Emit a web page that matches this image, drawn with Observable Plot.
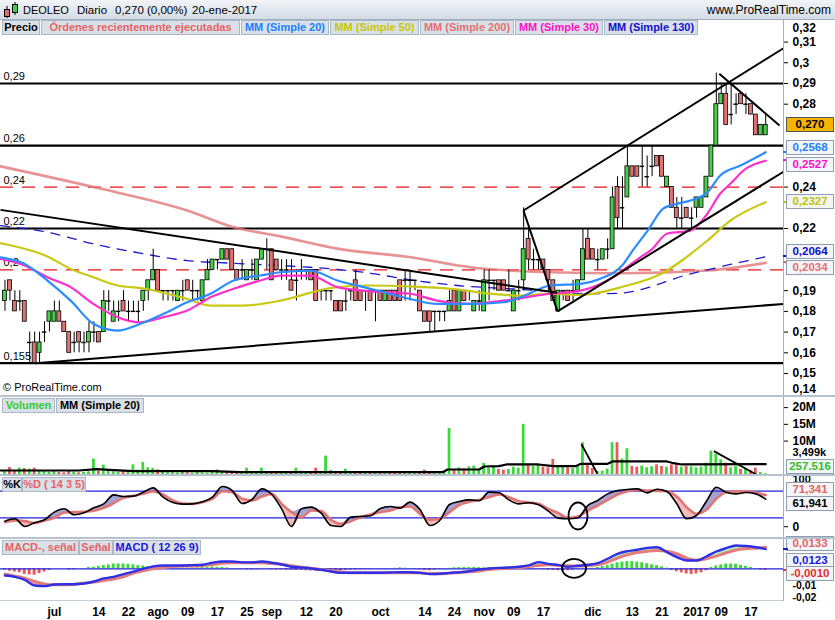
<!DOCTYPE html>
<html lang="es"><head><meta charset="utf-8"><title>DEOLEO Diario</title>
<script src="https://cdn.jsdelivr.net/npm/d3@7"></script>
<script src="https://cdn.jsdelivr.net/npm/@observablehq/plot@0.6"></script>
<style>
html,body{margin:0;padding:0;background:#fff;}
#wrap{position:relative;width:835px;height:620px;overflow:hidden;background:#fff;font-family:"Liberation Sans",Arial,sans-serif;color:#000;}
#wrap svg{position:absolute;left:0;overflow:hidden;}
.hdr{position:absolute;left:0;top:0;width:835px;height:19px;background:linear-gradient(#f2f5f8,#d3dbe4);border-bottom:1px solid #9eafc0;}
.ht{position:absolute;top:3px;font-size:11.5px;line-height:14px;white-space:nowrap;}
.lg{position:absolute;height:15px;line-height:13px;font-size:11px;font-weight:bold;background:#d9e0e8;border:1px solid #aab7c4;box-sizing:border-box;text-align:center;white-space:nowrap;overflow:hidden;}
.sep{position:absolute;left:0;width:835px;background:#b6c2ce;z-index:3;}
.box{position:absolute;left:786px;width:48px;height:15px;line-height:13px;font-size:11.5px;font-weight:bold;border:1px solid #8e9db0;background:#f3f5f8;box-sizing:border-box;text-align:center;white-space:nowrap;z-index:2;}
.mk{position:absolute;left:783px;width:5px;height:2px;z-index:2;}
</style></head><body><div id="wrap"></div>
<script>
// ================= DATA =================
// Daily candles (index 0 = 17-jun-2016 ... index 154 = 20-ene-2017)
const open = [.185,.195,.185,.185,.185,.165,.165,.16,.17,.175, .175,.18,.175,.17,.165,.17,.165,.165,.17,.17,
 .17,.185,.175,.18,.185,.18,.18,.18,.185,.19, .195,.2,.19,.19,.19,.185,.19,.195,.19,.19,
 .185,.195,.2,.205,.205,.21,.21,.2,.2,.195, .2,.195,.205,.21,.21,.205,.2,.2,.195,.195,
 .2,.2,.2,.2,.19,.19,.19,.185,.185,.185, .19,.195,.19,.19,.19,.19,.19,.185,.19,.19,
 .195,.195,.195,.195,.19,.18,.18,.18,.18,.18, .18,.19,.18,.19,.19,.18,.185,.18,.195,.195,
 .195,.195,.19,.18,.19,.195,.215,.205,.205,.205, .2,.195,.18,.19,.19,.19,.19,.195,.215,.21,
 .205,.205,.21,.21,.24,.23,.235,.25,.25,.25, .245,.25,.255,.255,.24,.24,.23,.225,.23,.225,
 .23,.23,.235,.245,.26,.28,.285,.275,.28,.285, .28,.28,.275,.265,.265];
const high = [.195,.195,.19,.19,.185,.17,.17,.17,.175,.18, .185,.185,.175,.17,.17,.17,.17,.175,.175,.17,
 .19,.19,.185,.185,.19,.185,.185,.185,.19,.195, .21,.2,.19,.19,.19,.19,.195,.195,.195,.19,
 .195,.205,.205,.205,.21,.21,.21,.2,.205,.2, .205,.205,.21,.215,.21,.205,.205,.205,.205,.2,
 .205,.2,.2,.2,.19,.19,.19,.185,.185,.19, .19,.2,.19,.19,.19,.19,.19,.19,.19,.19,
 .195,.2,.2,.195,.19,.18,.18,.18,.18,.18, .19,.19,.19,.19,.19,.185,.19,.2,.2,.195,
 .195,.195,.2,.19,.195,.23,.22,.21,.205,.205, .2,.195,.19,.19,.19,.195,.195,.22,.22,.21,
 .21,.21,.215,.24,.245,.245,.26,.25,.25,.26, .255,.26,.255,.255,.245,.24,.235,.235,.23,.23,
 .235,.235,.245,.26,.295,.29,.29,.29,.285,.285, .285,.28,.275,.27,.275];
const low = [.18,.185,.18,.18,.175,.155,.155,.155,.165,.17, .175,.175,.17,.16,.16,.16,.16,.16,.165,.165,
 .17,.18,.175,.175,.18,.175,.18,.175,.18,.185, .195,.19,.185,.185,.185,.185,.185,.19,.185,.185,
 .185,.195,.2,.2,.205,.205,.2,.195,.195,.195, .195,.195,.205,.2,.195,.2,.195,.195,.19,.185,
 .195,.195,.195,.185,.185,.185,.185,.18,.18,.18, .185,.185,.185,.18,.185,.175,.185,.185,.185,.185,
 .185,.185,.185,.19,.18,.175,.17,.17,.175,.175, .18,.18,.18,.185,.185,.18,.18,.18,.185,.19,
 .19,.19,.19,.18,.185,.19,.2,.2,.2,.2, .19,.185,.18,.185,.185,.185,.19,.195,.205,.205,
 .2,.205,.205,.21,.22,.22,.235,.245,.245,.24, .24,.245,.25,.245,.24,.23,.22,.22,.225,.22,
 .225,.23,.235,.245,.26,.28,.27,.27,.275,.28, .275,.275,.265,.265,.265];
const close = [.19,.19,.18,.185,.175,.165,.155,.165,.17,.18, .18,.175,.17,.16,.165,.165,.165,.17,.17,.165,
 .185,.185,.18,.18,.18,.18,.18,.18,.19,.195, .2,.19,.19,.19,.19,.19,.19,.19,.19,.19,
 .195,.2,.205,.205,.21,.205,.2,.195,.2,.2, .2,.205,.21,.21,.195,.2,.2,.2,.19,.195,
 .2,.2,.195,.185,.19,.19,.19,.18,.18,.185, .19,.185,.185,.19,.185,.19,.185,.19,.185,.185,
 .185,.195,.195,.195,.18,.175,.175,.18,.18,.18, .185,.18,.19,.185,.19,.185,.185,.195,.195,.195,
 .19,.19,.19,.19,.19,.21,.205,.205,.205,.2, .195,.185,.19,.19,.185,.19,.195,.21,.205,.205,
 .205,.21,.21,.235,.225,.23,.25,.245,.245,.25, .245,.25,.25,.245,.245,.23,.225,.225,.225,.225,
 .235,.235,.245,.26,.28,.285,.27,.275,.28,.28, .28,.275,.265,.27,.27];
// Daily volume, millions
const volume = [1.2,2.1,1.0,1.9,1.8,1.6,1.9,1.3,0.9,0.7, 0.9,0.6,0.5,0.9,0.7,0.5,0.6,0.8,4.6,1.0,
 2.8,1.2,0.8,0.6,0.9,1.1,2.9,1.3,3.6,2.0, 1.8,1.4,0.6,0.5,0.5,0.4,0.7,0.5,0.4,0.6,
 0.5,0.4,0.6,1.4,0.7,0.5,0.8,0.6,0.5,1.9, 0.6,0.8,1.9,0.8,0.6,0.7,0.9,0.7,0.8,1.9,
 1.0,0.8,0.7,1.9,0.9,5.5,1.2,0.8,0.7,1.6, 0.6,0.5,0.7,0.6,0.5,0.8,0.6,0.5,0.7,0.6,
 0.5,0.6,0.7,0.5,0.4,1.3,0.6,0.5,0.7,0.6, 13.8,1.5,2.0,1.7,2.3,2.5,1.6,3.3,1.8,2.1,
 1.5,1.3,1.5,2.2,1.9,15.0,3.0,2.4,2.8,2.2, 2.0,4.5,2.5,2.2,2.0,1.8,2.3,9.5,2.9,1.8,
 0.9,1.0,1.6,9.5,9.5,4.6,7.7,2.4,2.2,2.5, 2.0,2.3,2.9,2.4,2.2,2.9,2.9,2.2,2.4,2.3,
 2.0,2.2,3.4,7.0,6.0,4.4,3.4,2.0,2.4,1.5, 1.8,1.2,1.9,0.6,0.257516];
// Volume moving average 20 (read samples: [day index, millions])
const volMA = [[-0.9,1.2],[15,1.2],[18.5,1.6],[22,1.3],[26,1.0],[42,1.0],[47.6,0.7],[88.6,0.7],[89.6,1.5],[96,1.5],[97,2.4],[100,2.5],[101.5,3.0],[108,3.0],[111,2.5],[115.5,2.5],[116.6,3.2],[122,3.2],[123,3.9],[134,3.9],[135,3.5],[137,3.0],[154,3.1]];
// Price moving averages (read samples: [day index, price])
const ma20 = [[-0.9,.2061],[3.7,.2032],[8.6,.1949],[13.3,.1852],[17.9,.174],[22.8,.1707],[27.4,.174],[32.1,.1788],[36.9,.1844],[41.6,.1885],[46.3,.1949],[51.7,.1973],[55.8,.1989],[61.8,.1997],[67.3,.1949],[74,.1909],[82.1,.186],[87.5,.1836],[94.2,.1836],[100.9,.1844],[104.4,.1868],[110.4,.1925],[116.5,.1933],[120.5,.1957],[125.2,.2029],[127.1,.2094],[130.1,.219],[133.3,.2297],[136.1,.232],[138.8,.2335],[142.2,.2375],[144.8,.2456],[148.9,.2504],[154,.2568]];
const ma30 = [[-0.9,.2053],[3.7,.2024],[8.6,.1965],[13.3,.1917],[17.9,.1836],[22.8,.1772],[27.4,.1747],[32.1,.1772],[36.9,.1804],[41.6,.1868],[46.3,.1909],[51.7,.1949],[55.8,.1973],[61.8,.1973],[67.3,.1917],[74,.1897],[82.1,.1885],[87.5,.1852],[94.2,.1836],[100.9,.1852],[110.4,.1885],[116.5,.19],[122,.1949],[128.6,.2061],[130.7,.2094],[134.1,.2176],[138.8,.219],[142.2,.2272],[144.8,.2369],[146.9,.2417],[149.5,.248],[154,.2527]];
const ma50 = [[-0.9,.2129],[8.6,.2065],[13.3,.2005],[17.9,.1965],[22.8,.1925],[27.4,.1913],[36.9,.186],[41.6,.1828],[47.9,.1828],[55.8,.1852],[66,.1913],[74,.1925],[82.1,.192],[90.2,.1909],[97.7,.1887],[104.4,.1876],[110.4,.1885],[116.5,.188],[125.2,.192],[132.1,.1973],[142.2,.2142],[146.9,.2239],[154,.2327]];
const ma130 = [[-0.9,.2214],[8.6,.2182],[17.9,.2126],[27.4,.2081],[36.9,.2045],[46.3,.2032],[55.8,.2021],[61.8,.2013],[74,.1984],[82.1,.1952],[91.6,.1925],[102.3,.1909],[110.4,.1897],[118,.1885],[124,.1887],[138.8,.1981],[154,.2064]];
const ma200 = [[-0.9,.250],[17.9,.240],[36.9,.2287],[46.3,.2206],[55.8,.2162],[67.3,.2103],[82.1,.2061],[94.2,.2013],[110.4,.1989],[125.2,.1984],[142.2,.1997],[154,.2034]];
// Horizontal levels and hand-drawn trend lines on the price panel
const levelsBlack = [0.29, 0.26, 0.22, 0.155];
const levelsRed = [0.24, 0.20];
const levelValues = [0.29, 0.26, 0.24, 0.22, 0.20, 0.155];
const levelTexts = ["0,29", "0,26", "0,24", "0,22", "0,2", "0,155"];
const trendLines = [[-0.91,.229,111.8,.189],[6.17,.155,157.6,.1836],[104.96,.2287,111.85,.18],[111.85,.18,157.6,.2474],[104.96,.2287,157.6,.307],[144.6,.2947,156.8,.2697]];
const volLines = [[116.7,9.1,119.9,0.3],[143.5,7.0,152.1,0]];
// Stochastic (14 3 5) and MACD (12 26 9), read every second day
const sampleIdx = [0,2,4,6,8,10,12,14,16,18,20,22,24,26,28,30,32,34,36,38,40,42,44,46,48,50,52,54,56,58,60,62,64,66,68,70,72,74,76,78,80,82,84,86,88,90,92,94,96,98,100,102,104,106,108,110,112,114,116,118,120,122,124,126,128,130,132,134,136,138,140,142,144,146,148,150,152,154];
const stochK = [12.5,17.8,0.5,8.8,15.5,32.8,40.3,26.8,31.3,42.5, 51.5,71.8,68,68.8,77.8,87.5,66.5,54.5,50.8,51.5,
 56,66.5,90.5,81.5,52.3,61.3,85.3,72.5,40.3,0.5, 40.3,44,30.5,2.8,0.5,21.5,23,24.5,41,45.5,
 41.8,55.3,38.8,2.8,14,50,56.8,60.5,58.3,77.8, 76.3,60.5,51.5,53.8,49.3,35,19.3,17.8,20,47.8,
 59,74,81.5,83.8,85.3,76.3,84.5,79.3,51.5,17.8, 25.3,57.5,89,77.8,74,77,74,61.941];
const stochD = [10.3,14,12.5,8,14,20,32,32.8,33.5,35.8, 42.5,53,65,69.5,74,79.3,72.5,59,52.3,51.5,
 55.3,62.8,80,77.8,62.8,59,68,74,51.5,32.8, 21.5,36.5,35,15.5,6.5,12.5,21.5,27.5,32.8,36.5,
 44,45.5,29,15.5,17.8,32.8,49.3,56,60.5,66.5, 72.5,66.5,57.5,54.5,51.5,40.3,30.5,20,23,36.5,
 47.8,60.5,72.5,80,83,81.5,80.8,80,68,44, 29,38,62.8,77.8,79.3,79.3,76.3,71.341];
const macd = [-0.0042,-0.005,-0.0069,-0.0104,-0.0108,-0.0098,-0.0096,-0.0096,-0.0092,-0.0079,
 -0.006,-0.005,-0.0033,-0.0017,0,0.0015,0.0021,0.0021,0.0021,0.0023,
 0.0025,0.0038,0.0046,0.0046,0.004,0.004,0.0046,0.0038,0.0027,0.0013,
 0.0008,0.0002,-0.0006,-0.0017,-0.0025,-0.0025,-0.0025,-0.0025,-0.0025,-0.0023,
 -0.0021,-0.0021,-0.0025,-0.0033,-0.0031,-0.0025,-0.0021,-0.0015,-0.0004,0.0002,
 0.0006,0.0008,0.0013,0.0021,0.0042,0.0031,0.0023,0.0013,0.0019,0.0025,
 0.0035,0.0063,0.0094,0.011,0.0119,0.0131,0.0135,0.0104,0.0073,0.0052,
 0.0052,0.0077,0.0108,0.0129,0.0146,0.0142,0.0135,0.0123];
const signal = [-0.0033,-0.0046,-0.0058,-0.0079,-0.0094,-0.01,-0.01,-0.0096,-0.009,-0.0083,
 -0.0073,-0.0063,-0.005,-0.0027,-0.0013,0,0.0008,0.0015,0.0017,0.0017,
 0.0021,0.0027,0.0035,0.0038,0.0038,0.0038,0.0038,0.0033,0.0029,0.0019,
 0.001,0.0004,-0.0004,-0.0013,-0.0019,-0.0025,-0.0025,-0.0025,-0.0025,-0.0025,
 -0.0025,-0.0025,-0.0025,-0.0029,-0.0031,-0.0027,-0.0023,-0.0019,-0.0013,-0.0004,
 0,0.0004,0.0008,0.0015,0.0021,0.0025,0.0023,0.0019,0.0017,0.0021,
 0.0025,0.0042,0.0067,0.0088,0.0102,0.011,0.0115,0.011,0.0094,0.0067,
 0.0054,0.0063,0.0079,0.01,0.0117,0.0125,0.0129,0.0133];
const macdHist = [-0.0008,-0.0015,-0.002,-0.0025,-0.0035,-0.0038,-0.004,-0.003,-0.002,-0.001,
 0,0,0,-0.0008,-0.0006,0,0,0.0008,0.001,0.0015,
 0.002,0.0025,0.003,0.003,0.003,0.0028,0.0025,0.002,0.0018,0.0012,
 0.0008,0.0006,0.0005,0.0004,0.0004,0.0004,0.0005,0.0004,0.0005,0.0006,
 0.0008,0.001,0.0012,0.001,0.0008,0.0006,0.0002,0.0002,-0.0002,-0.0006,
 -0.0006,-0.0003,0.0001,0.0002,-0.0004,-0.0006,-0.0006,-0.0008,-0.0008,-0.001,
 -0.001,-0.0012,-0.0014,-0.0015,-0.0015,-0.0015,-0.0015,-0.0014,-0.0012,-0.001,
 -0.0008,-0.0006,-0.0005,-0.0004,-0.0003,0.0001,0.0002,0.0002,0.0002,0.0003,
 0.0006,0.0004,0.0002,-0.0003,-0.0006,-0.001,-0.0012,-0.0008,-0.0004,0.0001,
 0.0003,0.0006,0.0008,0.0008,0.0008,0.0008,0.0007,0.0006,0.0006,0.0005,
 0.0004,0.0004,0.0005,0.0006,0.0007,0.0008,0.0006,0.0004,0.0002,-0.0004,
 -0.0008,-0.001,-0.0012,-0.0015,-0.0012,-0.0008,0.0002,0.0003,0.0003,0.0004,
 0.0008,0.0015,0.0022,0.003,0.0038,0.0042,0.0045,0.0045,0.0042,0.0038,
 0.0032,0.0025,0.002,0.0012,0.0004,-0.001,-0.0018,-0.0025,-0.0032,-0.0035,
 -0.0032,-0.0025,-0.0012,0.0008,0.0018,0.0025,0.003,0.003,0.0028,0.0022,
 0.0015,0.0008,0.0002,-0.0006,-0.001];
// Annotation rings (day index, value)
const stochRing = {x: 116.1, y: 23};
const macdRing = {x: 115.3, y: 0};
// Axis ticks
const xTickIdx = [10,19,25,31,37,43,49,54,61,67,76,85,91,97,103,109,119,127,133,140,145,151];
const xTickLab = ["jul","14","22","ago","09","17","25","sep","12","20","oct","14","24","nov","09","17","dic","13","21","2017","09","17"];
const priceTicks = [0.15,0.16,0.17,0.18,0.19,0.2,0.21,0.22,0.23,0.24,0.25,0.26,0.27,0.28,0.29,0.3,0.31];
const priceTopTick = 0.32, priceBottomTick = 0.14;
const volTicks = [10, 15, 20];
const stochTicks = [0];
const stochTopTick = 100;
const macdTickA = -0.01, macdTickB = -0.02;
const volMALabel = "3,499k";
const volLastLabel = "257.516";

// ================= LAYOUT / STYLE =================
const W = 835, MR = 52, XD = [-0.91, 157.6];
const GREEN = "#47cf47", RED = "#e27272", VGREEN = "#3ad83a", VRED = "#e65a5a";
const FONT = {fontFamily: "'Liberation Sans', Arial, sans-serif", fontSize: "12px", fontWeight: "bold", color: "#000", background: "transparent"};
const comma = (v, d) => v.toFixed(d).replace(".", ",");
const fmtP = d => String(+d.toFixed(3)).replace(".", ",");
const wrap = document.getElementById("wrap");
function el(tag, cls, style, text) { const e = document.createElement(tag); if (cls) e.className = cls; Object.assign(e.style, style || {}); if (text != null) e.textContent = text; wrap.appendChild(e); return e; }
function place(svg, top) { svg.style.top = top + "px"; wrap.appendChild(svg); return svg; }
const P = () => ({x: d => d[0], y: d => d[1]});
const last = a => a[a.length - 1][1];
const AX = {anchor: "right", tickSize: 4, tickPadding: 5, label: null};
const sideText = (v, dy, extra) => Plot.text([v], {x: XD[1], y: d => d, dx: 9, dy, textAnchor: "start", text: d => fmtP(d), ...(extra || {})});

const candles = open.map((o, i) => ({i, o, h: high[i], l: low[i], c: close[i]}));
const vols = volume.map((v, i) => ({i, v, up: close[i] >= open[i]}));
const hist = macdHist.map((h, i) => ({i, h}));
const st = sampleIdx.map((x, j) => ({x, k: stochK[j], d: stochD[j]}));
const mc = sampleIdx.map((x, j) => ({x, m: macd[j], s: signal[j]}));

// panel geometry
const PRICE = {top: 20, h: 375, y: [0.1394, 0.3204]};
const VOL = {top: 397, h: 77, y: [0, 23.03]};
const STO = {top: 476, h: 62, y: [-26.6, 113.1]};
const MAC = {top: 539, h: 62, y: [-0.0204, 0.0183]};
const scaleOf = p => Plot.scale({y: {domain: p.y, range: [p.h, 0]}});

// value boxes layout (uses the same scales as the plots)
function layoutBoxes(p, list, gap, mode) {
  const sy = scaleOf(p);
  const items = list.map(b => { const y0 = p.top + sy.apply(b.v); return {...b, y0, y: Math.min(y0, p.top + p.h - 8)}; });
  items.sort((a, b) => a.y - b.y);
  if (mode === "center") {
    for (let it = 0; it < 30; it++) for (let i = 1; i < items.length; i++) {
      const a = items[i - 1], b = items[i];
      if (b.y - a.y < gap) { const m = (a.y + b.y) / 2; a.y = m - gap / 2; b.y = m + gap / 2; }
    }
  } else {
    for (let i = 1; i < items.length; i++) if (items[i].y - items[i - 1].y < gap) items[i].y = items[i - 1].y + gap;
  }
  return items;
}
const priceBoxes = layoutBoxes(PRICE, [
  {v: close[154], t: comma(close[154], 3), color: "#000", bg: "#f5b400", bc: "#555"},
  {v: last(ma20), t: comma(last(ma20), 4), color: "#1a80ff", mark: true},
  {v: last(ma30), t: comma(last(ma30), 4), color: "#ff10c8", mark: true},
  {v: last(ma50), t: comma(last(ma50), 4), color: "#c2c200", mark: true},
  {v: last(ma130), t: comma(last(ma130), 4), color: "#1010cc", mark: true},
  {v: last(ma200), t: comma(last(ma200), 4), color: "#e27272", mark: true}
], 16.5, "center");
const yPrice = scaleOf(PRICE);
const shownPriceTicks = priceTicks.filter(t => !priceBoxes.some(b => Math.abs(b.y - (PRICE.top + yPrice.apply(t))) < 10));
const volBoxes = layoutBoxes(VOL, [{v: volume[154], t: volLastLabel, color: "#2fbf2f"}], 15, "center");
const stoBoxes = layoutBoxes(STO, [
  {v: stochD[stochD.length - 1], t: comma(stochD[stochD.length - 1], 3), color: "#e46464"},
  {v: stochK[stochK.length - 1], t: comma(stochK[stochK.length - 1], 3), color: "#000"}
], 14, "center");
const macBoxes = layoutBoxes(MAC, [
  {v: signal[signal.length - 1], t: comma(signal[signal.length - 1], 4), color: "#e46464"},
  {v: macd[macd.length - 1], t: comma(macd[macd.length - 1], 4), color: "#1a1ad8", mark: true},
  {v: macdHist[macdHist.length - 1], t: comma(macdHist[macdHist.length - 1], 4), color: "#e23030", mark: true}
], 13, "down");
macBoxes[0].y -= 4;

// header
el("div", "hdr");
const icon = el("div", null, {position: "absolute", left: "3px", top: "2px", width: "16px", height: "16px"});
icon.innerHTML = '<svg width="16" height="16" style="position:static"><line x1="4" y1="4" x2="4" y2="16" stroke="#000"/><rect x="1.5" y="7.5" width="5" height="7" fill="#e27272" stroke="#000"/><line x1="12" y1="0" x2="12" y2="13" stroke="#000"/><rect x="9.5" y="2.5" width="5" height="8" fill="#47cf47" stroke="#000"/></svg>';
el("div", "ht", {left: "23px", fontSize: "11px"}, "DEOLEO");
el("div", "ht", {left: "77px"}, "Diario");
el("div", "ht", {left: "115px"}, comma(close[154], 3) + " (0,00%)");
el("div", "ht", {left: "192px"}, "20-ene-2017");
el("div", "ht", {right: "4px", fontSize: "12px"}, "www.ProRealTime.com");

// ---------- price panel ----------
const pricePlot = Plot.plot({
  width: W, height: PRICE.h, marginLeft: 0, marginRight: MR, marginTop: 0, marginBottom: 0,
  x: {domain: XD, axis: null}, y: {domain: PRICE.y, axis: null}, style: FONT,
  marks: [
    Plot.ruleY(levelsRed, {stroke: "#e8141a", strokeWidth: 1.3, strokeDasharray: "13,9"}),
    Plot.ruleY(levelsBlack, {stroke: "#000", strokeWidth: 2.2}),
    Plot.text(levelValues, {x: XD[0], y: d => d, text: (d, i) => levelTexts[i], textAnchor: "start", dx: 3, dy: -7, fontWeight: "normal", fontSize: 11}),
    Plot.line(ma200, {...P(), stroke: "#e27878", strokeWidth: 2.6, strokeOpacity: 0.8, curve: "monotone-x"}),
    Plot.line(ma130, {...P(), stroke: "#1a1acc", strokeWidth: 1.3, strokeDasharray: "9,8", curve: "monotone-x"}),
    Plot.ruleX(candles, {x: "i", y1: "l", y2: "h", stroke: "#000", strokeWidth: 1}),
    Plot.rect(candles.filter(d => d.o !== d.c), {x1: d => d.i - 0.4, x2: d => d.i + 0.4, y1: "o", y2: "c", fill: d => d.c > d.o ? GREEN : RED, stroke: "#000", strokeWidth: 0.8}),
    Plot.ruleY(candles.filter(d => d.o === d.c), {y: "c", x1: d => d.i - 0.45, x2: d => d.i + 0.45, stroke: "#000", strokeWidth: 1.4}),
    Plot.line(ma50, {...P(), stroke: "#c9c915", strokeWidth: 2.2, curve: "monotone-x"}),
    Plot.line(ma30, {...P(), stroke: "#ff30c8", strokeWidth: 2.2, curve: "monotone-x"}),
    Plot.line(ma20, {...P(), stroke: "#2a8cff", strokeWidth: 2.2, curve: "monotone-x"}),
    Plot.link(trendLines, {x1: d => d[0], y1: d => d[1], x2: d => d[2], y2: d => d[3], stroke: "#000", strokeWidth: 2}),
    Plot.ruleX([XD[1]], {stroke: "#a4b0bc"}),
    Plot.axisY(shownPriceTicks, {...AX, tickFormat: fmtP}),
    sideText(priceTopTick, 7),
    sideText(priceBottomTick, -5)
  ]
});
place(pricePlot, PRICE.top);

// ---------- volume panel ----------
const volPlot = Plot.plot({
  width: W, height: VOL.h, marginLeft: 0, marginRight: MR, marginTop: 0, marginBottom: 0,
  x: {domain: XD, axis: null}, y: {domain: VOL.y, axis: null}, style: FONT,
  marks: [
    Plot.rect(vols, {x1: d => d.i - 0.28, x2: d => d.i + 0.28, y1: 0, y2: "v", fill: d => d.up ? VGREEN : VRED}),
    Plot.line(volMA, {...P(), stroke: "#000", strokeWidth: 2.2}),
    Plot.link(volLines, {x1: d => d[0], y1: d => d[1], x2: d => d[2], y2: d => d[3], stroke: "#000", strokeWidth: 1.8}),
    Plot.ruleX([XD[1]], {stroke: "#a4b0bc"}),
    Plot.axisY(volTicks, {...AX, tickFormat: d => d + "M"}),
    Plot.text([3.499], {x: XD[1], y: d => d, dx: 9, dy: -10, textAnchor: "start", text: () => volMALabel, fontSize: 11})
  ]
});
place(volPlot, VOL.top);

// ---------- stochastic panel ----------
const stPlot = Plot.plot({
  width: W, height: STO.h, marginLeft: 0, marginRight: MR, marginTop: 0, marginBottom: 0,
  x: {domain: XD, axis: null}, y: {domain: STO.y, axis: null}, style: FONT,
  marks: [
    Plot.areaY(st, {x: "x", y1: "d", y2: d => Math.max(d.k, d.d), fill: "#a3a3d3", curve: "monotone-x"}),
    Plot.areaY(st, {x: "x", y1: "d", y2: d => Math.min(d.k, d.d), fill: "#f4b9b9", curve: "monotone-x"}),
    Plot.ruleY([20, 80], {stroke: "#2222dd", strokeWidth: 1.2}),
    Plot.line(st, {x: "x", y: "d", stroke: "#e27474", strokeWidth: 2.6, curve: "monotone-x"}),
    Plot.line(st, {x: "x", y: "k", stroke: "#000", strokeWidth: 1.6, curve: "monotone-x"}),
    Plot.ruleX([XD[1]], {stroke: "#a4b0bc"}),
    Plot.axisY(stochTicks, {...AX, tickFormat: d => String(d)}),
    sideText(stochTopTick, -3, {fontSize: 11})
  ]
});
place(stPlot, STO.top);

// ---------- MACD panel ----------
const mcPlot = Plot.plot({
  width: W, height: MAC.h + 19, marginLeft: 0, marginRight: MR, marginTop: 0, marginBottom: 19,
  x: {domain: XD, axis: null}, y: {domain: MAC.y, axis: null}, style: FONT,
  marks: [
    Plot.areaY(mc, {x: "x", y1: "s", y2: d => Math.max(d.m, d.s), fill: "#b3f0b3", curve: "monotone-x"}),
    Plot.areaY(mc, {x: "x", y1: "s", y2: d => Math.min(d.m, d.s), fill: "#f0a6a6", curve: "monotone-x"}),
    Plot.rect(hist, {x1: d => d.i - 0.3, x2: d => d.i + 0.3, y1: 0, y2: "h", fill: d => d.h >= 0 ? VGREEN : VRED}),
    Plot.ruleY([0], {stroke: "#2222dd", strokeWidth: 1.2}),
    Plot.line(mc, {x: "x", y: "s", stroke: "#e47c7c", strokeWidth: 3, curve: "monotone-x"}),
    Plot.line(mc, {x: "x", y: "m", stroke: "#2f2fe6", strokeWidth: 2.4, curve: "monotone-x"}),
    Plot.ruleX([XD[1]], {y1: MAC.y[0], y2: MAC.y[1], stroke: "#a4b0bc"}),
    sideText(macdTickA, 1, {fontSize: 10.5}),
    sideText(macdTickB, -3, {fontSize: 10.5}),
    Plot.axisX(xTickIdx, {anchor: "bottom", tickSize: 0, tickPadding: 6, label: null, tickFormat: d => xTickLab[xTickIdx.indexOf(d)]})
  ]
});
place(mcPlot, MAC.top);

// rings
function ring(plot, c, rx, ry) {
  d3.select(plot).append("ellipse")
    .attr("cx", plot.scale("x").apply(c.x)).attr("cy", plot.scale("y").apply(c.y))
    .attr("rx", rx).attr("ry", ry).attr("fill", "none").attr("stroke", "#000").attr("stroke-width", 1.8);
}
ring(stPlot, stochRing, 9.5, 13.5);
ring(mcPlot, macdRing, 12, 9.5);

// separators
el("div", "sep", {top: "395px", height: "2px"});
el("div", "sep", {top: "474px", height: "2px"});
el("div", "sep", {top: "537px", height: "2px"});
el("div", "sep", {top: "600px", height: "1px", width: "783px", background: "#c4ccd6"});

// legends
const legends = [
  [20, [["Precio", "#000", 2, 38], ["Órdenes recientemente ejecutadas", "#e46464", 41, 199], ["MM (Simple 20)", "#1a80ff", 241, 88], ["MM (Simple 50)", "#c8c800", 330, 89], ["MM (Simple 200)", "#e27272", 420, 94], ["MM (Simple 30)", "#ff10c8", 515, 88], ["MM (Simple 130)", "#1010cc", 604, 94]]],
  [398, [["Volumen", "#33cc33", 2, 53], ["MM (Simple 20)", "#000", 56, 88]]],
  [477, [["%K", "#000", 2, 20], ["%D ( 14 3 5)", "#e46464", 22, 64]]],
  [540, [["MACD-, señal", "#e46464", 2, 77], ["Señal", "#e46464", 79, 34], ["MACD ( 12 26 9)", "#1a1ad8", 113, 88]]]
];
legends.forEach(([top, items]) => items.forEach(([t, c, x, w]) => el("div", "lg", {top: top + "px", left: x + "px", width: w + "px", color: c}, t)));

el("div", null, {position: "absolute", left: "3px", top: "381px", fontSize: "11px", lineHeight: "13px"}, "© ProRealTime.com");

// draw value boxes
[priceBoxes, volBoxes, stoBoxes, macBoxes].forEach(list => list.forEach(b => {
  if (b.mark) el("div", "mk", {top: (b.y0 - 1) + "px", background: b.color});
  el("div", "box", {top: (b.y - 7.5) + "px", color: b.color, background: b.bg || "#f3f5f8", borderColor: b.bc || "#8e9db0"}, b.t);
}));
</script></body></html>
